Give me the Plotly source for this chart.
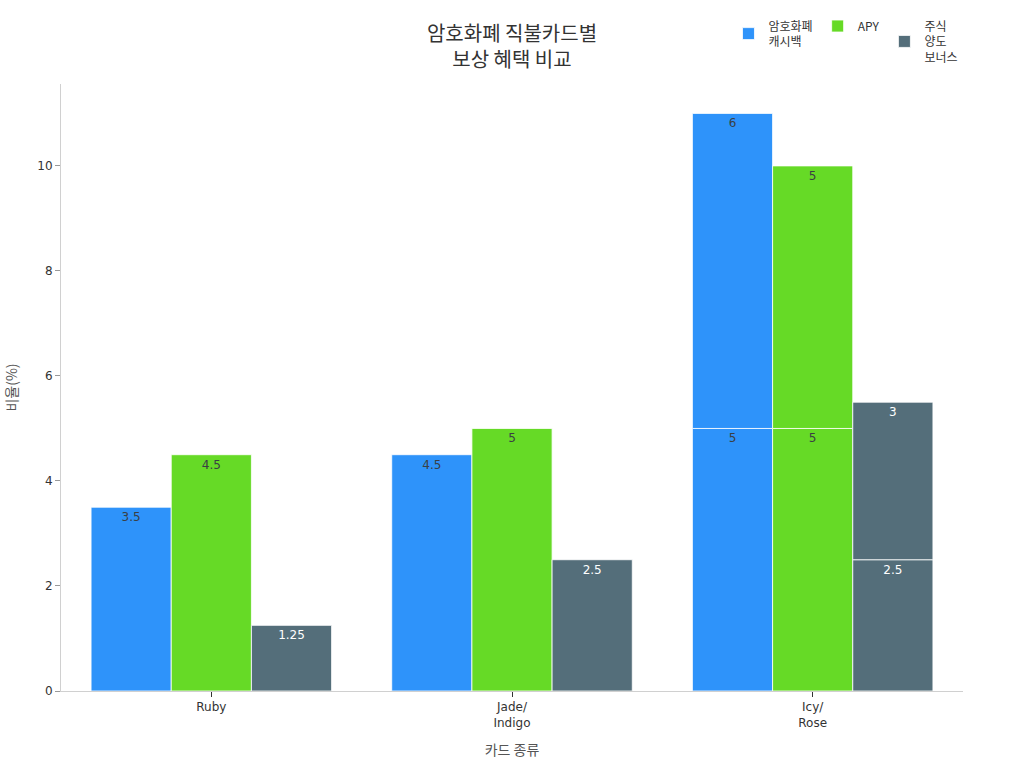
import plotly.graph_objects as go

categories = ["Ruby", "Jade/<br>Indigo", "Icy/<br>Rose"]
series_names = ["암호화폐<br>캐시백", "APY", "주식<br>양도<br>보너스"]
base_values = {
    "cashback": [3.5, 4.5, 5],
    "apy": [4.5, 5, 5],
    "stock": [1.25, 2.5, 2.5],
}
extra_values = {
    "cashback": [None, None, 6],
    "apy": [None, None, 5],
    "stock": [None, None, 3],
}
keys = ["cashback", "apy", "stock"]
colors = ["#2E93FA", "#66DA26", "#546E7A"]
text_colors = ["#3a3f44", "#3a3f44", "#ffffff"]

fig = go.Figure()
for i, k in enumerate(keys):
    fig.add_trace(go.Bar(
        x=categories, y=base_values[k], name=series_names[i],
        offsetgroup=str(i), legendgroup=k,
        marker=dict(color=colors[i], line=dict(color="rgba(255,255,255,0.8)", width=1)),
        text=[str(v) for v in base_values[k]], textposition="inside",
        insidetextanchor="end", textangle=0,
        textfont=dict(color=text_colors[i], size=12),
    ))
for i, k in enumerate(keys):
    ys = extra_values[k]
    bases = [b if e is not None else None for b, e in zip(base_values[k], ys)]
    fig.add_trace(go.Bar(
        x=categories, y=ys, base=bases, name=series_names[i],
        offsetgroup=str(i), legendgroup=k, showlegend=False,
        marker=dict(color=colors[i], line=dict(color="rgba(255,255,255,0.8)", width=1)),
        text=[str(v) if v is not None else "" for v in ys], textposition="inside",
        insidetextanchor="end", textangle=0,
        textfont=dict(color=text_colors[i], size=12),
    ))

fig.update_layout(
    width=1024, height=768,
    barmode="group", bargap=0.2, bargroupgap=0,
    paper_bgcolor="white", plot_bgcolor="white",
    font=dict(family="DejaVu Sans, Noto Sans CJK KR, sans-serif", color="#333333", size=12),
    margin=dict(l=61, r=61, t=84, b=77, autoexpand=False),
    title=dict(text="암호화폐 직불카드별<br>보상 혜택 비교", x=0.5, xanchor="center",
               yref="container", y=0.947, yanchor="top",
               font=dict(size=20, color="#333333", family="Noto Sans CJK KR, sans-serif")),
    legend=dict(orientation="h", x=0.740, xanchor="left", yref="container", y=0.985, yanchor="top",
                font=dict(size=12, family="Noto Sans CJK KR, sans-serif"),
                itemwidth=30, traceorder="normal"),
    xaxis=dict(title=dict(text="카드 종류", font=dict(size=14, color="#555555", family="Noto Sans CJK KR, sans-serif"), standoff=16),
               showline=True, linecolor="#d0d0d0", linewidth=1,
               ticks="outside", ticklen=5, tickcolor="#333333", showgrid=False),
    yaxis=dict(title=dict(text="비율(%)", font=dict(size=14, color="#555555", family="Noto Sans CJK KR, sans-serif"), standoff=16),
               range=[0, 11.56], showline=True, linecolor="#d0d0d0", linewidth=1,
               ticks="outside", ticklen=5, tickcolor="#999999", showgrid=False,
               dtick=2, zeroline=False),
)

fig.write_html("out.html")
